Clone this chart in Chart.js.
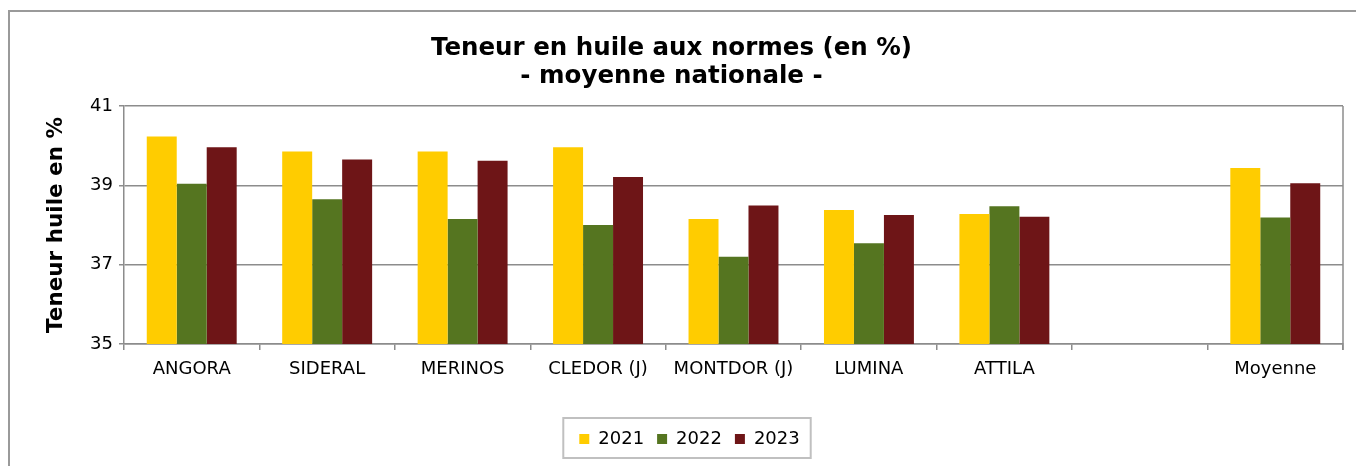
<!DOCTYPE html>
<html>
<head>
<meta charset="utf-8">
<script src="https://cdn.jsdelivr.net/npm/chart.js@4/dist/chart.umd.min.js"></script>
<style>
  html, body { margin: 0; padding: 0; background: #fff; }
  #wrap { width: 1356px; height: 466px; position: relative; }
</style>
</head>
<body>
<div id="wrap"><canvas id="c" width="1356" height="466"></canvas></div>
<script>
const categories = ['ANGORA', 'SIDERAL', 'MERINOS', 'CLEDOR (J)', 'MONTDOR (J)', 'LUMINA', 'ATTILA', '', 'Moyenne'];
const seriesNames = ['2021', '2022', '2023'];
const values2021 = [40.23, 39.85, 39.85, 39.96, 38.15, 38.38, 38.28, null, 39.44];
const values2022 = [39.04, 38.65, 38.15, 38.00, 37.20, 37.54, 38.47, null, 38.19];
const values2023 = [39.96, 39.65, 39.62, 39.21, 38.49, 38.25, 38.21, null, 39.05];
const yTicks = [35, 37, 39, 41];
const titleLines = ['Teneur en huile aux normes (en %)', '- moyenne nationale -'];
const yTitle = 'Teneur huile en %';

const colors = ['#FFCC00', '#557520', '#6E1517'];
const FONT = "'DejaVu Sans', Verdana, sans-serif";
const GRID = '#8c8c8c';

const frame = {
  id: 'frame',
  afterLayout(chart) {
    const lg = chart.legend;
    if (lg) { lg.left += 18; lg.right += 18; }
  },
  beforeDraw(chart) {
    const ctx = chart.ctx;
    ctx.save();
    ctx.fillStyle = '#fff';
    ctx.fillRect(0, 0, chart.width, chart.height);
    ctx.strokeStyle = '#9a9a9a';
    ctx.lineWidth = 2;
    ctx.beginPath();
    ctx.moveTo(9, chart.height);
    ctx.lineTo(9, 11);
    ctx.lineTo(chart.width, 11);
    ctx.stroke();
    ctx.restore();
  },
  afterDraw(chart) {
    const ctx = chart.ctx;
    const a = chart.chartArea;
    ctx.save();
    ctx.strokeStyle = GRID;
    ctx.lineWidth = 1.5;
    ctx.beginPath();
    ctx.moveTo(a.right, a.top);
    ctx.lineTo(a.right, a.bottom + 6);
    ctx.stroke();
    const hb = chart.legend.legendHitBoxes;
    if (hb && hb.length) {
      let l = Infinity, r = -Infinity, t = Infinity, b = -Infinity;
      hb.forEach(h => { l = Math.min(l, h.left); r = Math.max(r, h.left + h.width); t = Math.min(t, h.top); b = Math.max(b, h.top + h.height); });
      ctx.strokeStyle = '#c0c0c0';
      ctx.lineWidth = 2;
      ctx.strokeRect(l - 16, t - 12, (r - l) + 27, (b - t) + 22);
    }
    ctx.restore();
  }
};

new Chart(document.getElementById('c'), {
  type: 'bar',
  data: {
    labels: categories,
    datasets: [
      { label: seriesNames[0], data: values2021, backgroundColor: colors[0] },
      { label: seriesNames[1], data: values2022, backgroundColor: colors[1] },
      { label: seriesNames[2], data: values2023, backgroundColor: colors[2] }
    ]
  },
  options: {
    responsive: false,
    animation: false,
    devicePixelRatio: 1,
    layout: { padding: { left: 0, right: 13, top: 0, bottom: 8 } },
    datasets: { bar: { barPercentage: 1.0, categoryPercentage: 0.664, borderWidth: 0 } },
    plugins: {
      title: {
        display: true,
        text: titleLines,
        color: '#000',
        font: { family: FONT, size: 24.5, weight: 'bold', lineHeight: 1.143 },
        padding: { top: 35, bottom: 15 }
      },
      legend: {
        position: 'bottom',
        labels: {
          color: '#000',
          font: { family: FONT, size: 18 },
          boxWidth: 10,
          boxHeight: 10,
          padding: 13
        }
      },
      tooltip: { enabled: false }
    },
    scales: {
      x: {
        offset: true,
        grid: { display: true, offset: true, drawOnChartArea: false, drawTicks: true, tickLength: 6, color: GRID, lineWidth: 1.5 },
        border: { display: true, color: GRID, width: 1.5 },
        ticks: { color: '#000', font: { family: FONT, size: 18 }, padding: 9, maxRotation: 0, autoSkip: false },
        afterFit(scale) { scale.height = 73; }
      },
      y: {
        min: 35, max: 41,
        afterBuildTicks(scale) { scale.ticks = yTicks.map(v => ({ value: v })); },
        grid: { color: GRID, lineWidth: 1.5, tickLength: 5, drawTicks: true },
        border: { display: true, color: GRID, width: 1.5 },
        ticks: { color: '#000', font: { family: FONT, size: 18 }, padding: 6 },
        title: {
          display: true,
          text: yTitle,
          color: '#000',
          font: { family: FONT, size: 21.5, weight: 'bold', lineHeight: 1.2 },
          padding: { top: 44, bottom: 0 }
        },
        afterFit(scale) { scale.width = 124; }
      }
    }
  },
  plugins: [frame]
});
</script>
</body>
</html>
